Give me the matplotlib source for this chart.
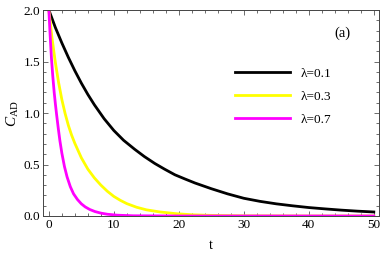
import matplotlib
matplotlib.use("Agg")
import matplotlib.pyplot as plt
from matplotlib.ticker import MultipleLocator, FormatStrFormatter

# values
t_01 = [0, 1, 2, 3, 4, 5, 6, 7, 8.5, 10, 11.5, 13.2, 14.7, 16.3, 17.8, 19.4,
        21, 22.5, 25, 27.5, 30, 32.5, 35, 37.5, 40, 42.5, 45, 47.5, 50]
c_01 = [2.0, 1.83, 1.68, 1.54, 1.41, 1.29, 1.18, 1.08, 0.945, 0.83, 0.735,
        0.648, 0.577, 0.51, 0.455, 0.40, 0.358, 0.32, 0.265, 0.215, 0.172,
        0.142, 0.118, 0.099, 0.082, 0.069, 0.057, 0.047, 0.039]

t_03 = [0, 0.5, 1, 1.5, 2, 2.5, 3, 3.5, 4, 5, 6, 7, 8, 9, 10, 11, 12, 13.5,
        15, 17, 19.5, 22, 25, 30, 40, 50]
c_03 = [2.0, 1.72, 1.49, 1.295, 1.13, 0.995, 0.88, 0.785, 0.705, 0.565, 0.455,
        0.37, 0.30, 0.24, 0.19, 0.152, 0.12, 0.085, 0.06, 0.04, 0.023, 0.012,
        0.006, 0.002, 0.0, 0.0]

t_07 = [0, 0.2, 0.4, 0.6, 0.82, 1.0, 1.18, 1.45, 1.7, 2.0, 2.4, 2.8, 3.3, 3.8,
        4.4, 5.0, 5.6, 6.3, 7.1, 8.0, 9.0, 10.5, 13.0, 20.0, 50.0]
c_07 = [2.0, 1.75, 1.53, 1.36, 1.2, 1.09, 0.99, 0.85, 0.73, 0.61, 0.48, 0.38,
        0.285, 0.215, 0.16, 0.118, 0.088, 0.063, 0.043, 0.028, 0.017, 0.008,
        0.002, 0.0, 0.0]

labels = ["λ=0.1", "λ=0.3", "λ=0.7"]
colors = ["black", "#ffff00", "#ff00ff"]

plt.rcParams["font.family"] = ["Liberation Serif", "DejaVu Serif"]
plt.rcParams["mathtext.fontset"] = "custom"
plt.rcParams["mathtext.rm"] = "Liberation Serif"
plt.rcParams["mathtext.it"] = "Liberation Serif:italic"

fig = plt.figure(figsize=(3.82, 2.58), dpi=100)
ax = fig.add_axes([0.1126, 0.1628, 0.8795, 0.7984])

for t, c, lab, col in zip([t_01, t_03, t_07], [c_01, c_03, c_07], labels, colors):
    ax.plot(t, c, color=col, lw=2.0, label=lab, solid_joinstyle="round")

ax.set_xlim(-0.9, 50.8)
ax.set_ylim(0, 2.0)
ax.xaxis.set_major_locator(MultipleLocator(10))
ax.xaxis.set_minor_locator(MultipleLocator(2))
ax.yaxis.set_major_locator(MultipleLocator(0.5))
ax.yaxis.set_minor_locator(MultipleLocator(0.1))
ax.yaxis.set_major_formatter(FormatStrFormatter("%.1f"))
ax.tick_params(which="both", direction="in", top=True, right=True,
               labelsize=9.5, width=0.6, color="#555555", pad=2)
ax.tick_params(which="major", length=3.5)
ax.tick_params(which="minor", length=2)
for s in ax.spines.values():
    s.set_linewidth(0.7)
    s.set_color("#444444")

ax.set_xlabel("t", fontsize=10, labelpad=6)
ax.set_ylabel(r"$C_{\mathrm{AD}}$", fontsize=11, labelpad=2)

ax.text(0.914, 0.888, "(a)", transform=ax.transAxes, fontsize=10.5,
        ha="right", va="center")
ax.legend(loc="upper left", bbox_to_anchor=(0.57, 0.72), frameon=False,
          fontsize=9.5, handlelength=4.2, handletextpad=0.8,
          labelspacing=0.8, borderpad=0, borderaxespad=0)

fig.savefig("out.png", dpi=100)
